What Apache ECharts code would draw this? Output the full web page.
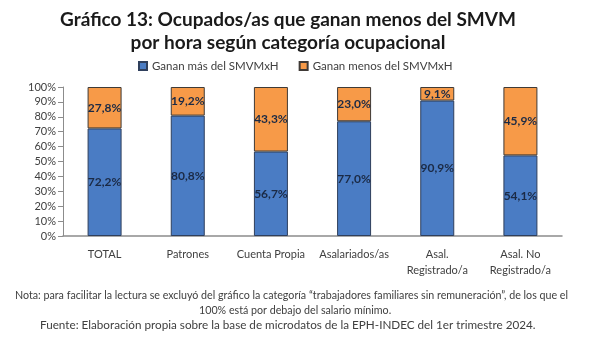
<!DOCTYPE html>
<html><head><meta charset="utf-8">
<script src="https://cdn.jsdelivr.net/npm/echarts@6/dist/echarts.min.js"></script>
<style>html,body{margin:0;padding:0;background:#fff}#c{width:606px;height:341px}</style>
</head><body><div id="c"></div>
<script>
const categories = ['TOTAL','Patrones','Cuenta Propia','Asalariados/as','Asal.\nRegistrado/a','Asal. No\nRegistrado/a'];
const seriesNames = ['Ganan más del SMVMxH','Ganan menos del SMVMxH'];
const ganaMas = [72.2, 80.8, 56.7, 77.0, 90.9, 54.1];
const ganaMenos = [27.8, 19.2, 43.3, 23.0, 9.1, 45.9];
const yTicks = [0,10,20,30,40,50,60,70,80,90,100];
const titleText = 'Gráfico 13: Ocupados/as que ganan menos del SMVM\npor hora según categoría ocupacional';
const note1 = 'Nota: para facilitar la lectura se excluyó del gráfico la categoría “trabajadores familiares sin remuneración”, de los que el';
const note2 = '100% está por debajo del salario mínimo.';
const source = 'Fuente: Elaboración propia sobre la base de microdatos de la EPH-INDEC del 1er trimestre 2024.';

const FONT = 'Lato';
const fmt = v => v.toFixed(1).replace('.', ',') + '%';
const chart = echarts.init(document.getElementById('c'), null, {renderer:'canvas'});
const labelStyle = {show:true, position:'inside', formatter: p => fmt(p.value), color:'#1b2a45', fontWeight:'bold', fontSize:12, fontFamily:FONT};
chart.setOption({
  animation:false,
  textStyle:{fontFamily:FONT},
  title:{text:titleText, left:283, top:3, textAlign:'center',
    textStyle:{fontSize:19, fontWeight:'bold', color:'#1a1a1a', lineHeight:23, fontFamily:FONT}},
  legend:{data:seriesNames, top:55, left:133, itemWidth:8, itemHeight:8, itemGap:20,
    icon:'rect', textStyle:{fontSize:11.5, color:'#404040', fontFamily:FONT}},
  grid:{left:63, right:44, top:87, bottom:105, containLabel:false},
  xAxis:{type:'category', data:categories,
    axisLine:{lineStyle:{color:'#8c8c8c', width:1.5}}, axisTick:{show:false},
    axisLabel:{color:'#404040', fontSize:11, lineHeight:16, margin:10, interval:0, fontFamily:FONT}},
  yAxis:{type:'value', min:0, max:100, interval:10,
    axisLine:{show:true, lineStyle:{color:'#8c8c8c'}},
    axisTick:{show:true, length:5, lineStyle:{color:'#8c8c8c'}},
    splitLine:{show:false},
    axisLabel:{formatter: v => yTicks.includes(v) ? v + '%' : '', color:'#404040', fontSize:11, margin:7, fontFamily:FONT}},
  series:[
    {name:seriesNames[0], type:'bar', stack:'s', data:ganaMas, barWidth:34,
      itemStyle:{color:'#4a7cc4', borderColor:'#2f3f5c', borderWidth:1}, label:labelStyle},
    {name:seriesNames[1], type:'bar', stack:'s', data:ganaMenos, barWidth:34,
      itemStyle:{color:'#f79a48', borderColor:'#3f3a36', borderWidth:1}, label:labelStyle}
  ],
  graphic:[
    {type:'text', left:15, top:290, style:{text:note1, fontSize:10.7, fill:'#404040', fontFamily:FONT}},
    {type:'text', left:199, top:305, style:{text:note2, fontSize:10.7, fill:'#404040', fontFamily:FONT}},
    {type:'text', left:40, top:319, style:{text:source, fontSize:11.7, fill:'#404040', fontFamily:FONT}}
  ]
});
</script></body></html>
